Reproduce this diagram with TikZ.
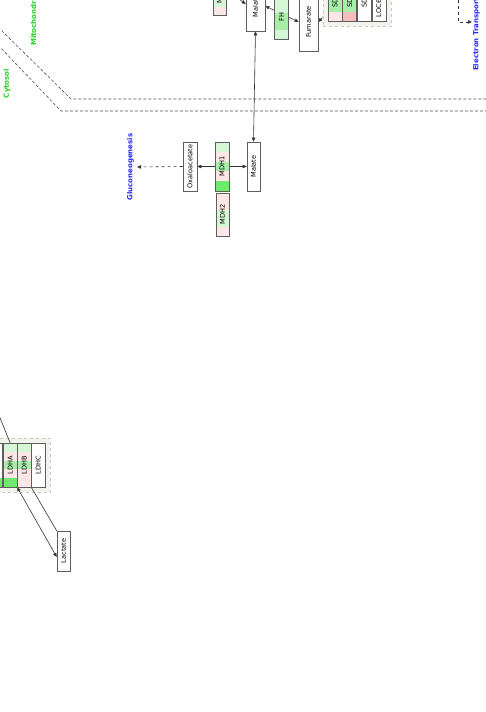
\documentclass[tikz,border=0pt]{standalone}
\usepackage{fontspec}
\setmainfont{DejaVu Sans}
\usepackage{graphicx}
\usetikzlibrary{arrows.meta, positioning, fit, backgrounds, calc}
\definecolor{ink}{HTML}{333333}
\definecolor{edge}{HTML}{5E5E5E}
\definecolor{membrane}{HTML}{505050}
\definecolor{compgreen}{HTML}{1ED41E}
\definecolor{pwblue}{HTML}{2525FF}
\definecolor{lg}{HTML}{D6F7D6}
\definecolor{mg}{HTML}{A8EDA8}
\definecolor{bg}{HTML}{6FEA6F}
\definecolor{pk}{HTML}{FCE6E6}
\definecolor{rs}{HTML}{F6BDBD}
\definecolor{grpfill}{HTML}{F3F3EE}
\definecolor{grpline}{HTML}{C8C8C0}
\newcommand{\vlab}[1]{\rotatebox{90}{#1}}

\begin{document}
\begin{tikzpicture}[x=1pt, y=-1pt,
    every node/.style={font=\fontsize{6.6}{7}\selectfont},
    metab/.style={rectangle, draw=edge, fill=white, line width=0.6pt,
                  inner sep=0pt, minimum width=13pt},
    gene/.style={metab, minimum width=14pt},
    bands/.style={path picture={
        \foreach \c [count=\i from 0] in {#1}
          \fill[\c] ($(path picture bounding box.north west)!\i/5!(path picture bounding box.south west)$)
            rectangle ($(path picture bounding box.north east)!\i/5+0.2!(path picture bounding box.south east)$);
      }},
    genegroup/.style={rectangle, draw=grpline, fill=grpfill, dashed, inner sep=5pt},
    complabel/.style={rotate=90, text=compgreen, inner sep=1pt,
                      font=\fontsize{7}{8}\selectfont\bfseries},
    pwlabel/.style={complabel, text=pwblue},
    membrane/.style={draw=membrane, line width=0.6pt, dash pattern=on 3pt off 2pt},
    conn/.style={draw=ink, line width=0.6pt},
    arrow/.style={conn, -{Triangle[length=4pt,width=3.5pt]}},
    biarrow/.style={conn, {Triangle[length=4pt,width=3.5pt]}-{Triangle[length=4pt,width=3.5pt]}},
    dasharrow/.style={arrow, dashed}
  ]
    \useasboundingbox (0,0) rectangle (485,712);

    % compartments
    \node[complabel, anchor=west] (mito) at (33.5,47) {Mitochondrion};
    \node[complabel] (cyto) at (7,83.5) {Cytosol};

    % mitochondrion
    \node[metab, minimum width=19pt, minimum height=50pt] (malM) at (255.5,6) {\vlab{Malate}};
    \node[gene, minimum width=13pt, minimum height=42pt, bands={lg,lg,lg,lg,pk}] (mdhM) at (219.5,-6) {\vlab{MDH2}};
    \node[gene, minimum width=13.5pt, minimum height=44pt, bands={lg,lg,mg,mg,lg}] (fh) at (281.5,17) {\vlab{FH}};
    \node[metab, minimum width=19pt, minimum height=58pt] (fum) at (308.5,22) {\vlab{Fumarate}};
    \node[gene, minimum height=46pt, bands={mg,mg,mg,mg,pk}] (sdha) at (335,-2) {\vlab{SDHA}};
    \node[gene, minimum height=46pt, bands={mg,mg,mg,mg,rs}, right=0pt of sdha] (sdhb) {\vlab{SDHB}};
    \node[gene, minimum height=46pt, right=0pt of sdhb] (sdhc) {\vlab{SDHC}};
    \node[gene, minimum height=46pt, right=0pt of sdhc] (sdhd) {\vlab{LOC642502}};
    \node[pwlabel, anchor=west] (etc) at (476.5,72) {Electron Transport Chain};
    \coordinate (sdhout) at (458,-6);
    \coordinate (oaaM) at (235,-4);

    % cytosol
    \node[metab, minimum height=49pt] (malC) at (253.5,166.5) {\vlab{Malate}};
    \node[gene, minimum height=49pt, bands={lg,pk,mg,pk,bg}] (mdh1) at (222,166.5) {\vlab{MDH1}};
    \node[gene, minimum width=13pt, minimum height=43pt, bands={pk,pk,lg,lg,pk}] (mdh2) at (222.5,214.5) {\vlab{MDH2}};
    \node[metab, minimum width=14pt, minimum height=49pt] (oaa) at (190,166.5) {\vlab{Oxaloacetate}};
    \node[pwlabel] (gluco) at (130.5,167) {Gluconeogenesis};

    \node[gene, minimum width=13.5pt, minimum height=44pt, bands={white,white,white,white,bg}] (ldhx) at (-4,465) {};
    \node[gene, minimum width=13.5pt, minimum height=44pt, bands={lg,pk,mg,pk,bg}, right=0pt of ldhx] (ldha) {\vlab{LDHA}};
    \node[gene, minimum width=13.5pt, minimum height=44pt, bands={lg,pk,mg,pk,pk}, right=0pt of ldha] (ldhb) {\vlab{LDHB}};
    \node[gene, minimum width=13.5pt, minimum height=44pt, right=0pt of ldhb] (ldhc) {\vlab{LDHC}};
    \node[metab, minimum height=40pt] (lact) at (63.5,551) {\vlab{Lactate}};
    \coordinate (pyr) at (-6,403);

    \begin{scope}[on background layer]
      \node[genegroup, fit=(sdha)(sdhd)] (sdh) {};
      \node[genegroup, fit=(ldhx)(ldhc)] (ldh) {};
      \draw[membrane] (-2,27) -- (71,99) -- (487,99);
      \draw[membrane] (-2,45) -- (61,111) -- (487,111);
      \draw[biarrow] (malC.north) -- (malM.south);
      \draw[biarrow] (fum.west) -- (malM.east);
      \draw[arrow] (oaaM) -- ([yshift=2pt]malM.west);
      \draw[arrow] ([yshift=9pt]sdh.south west) -- (fum.east);
      \draw[dasharrow] (sdhout) |- (etc.north);
      \draw[biarrow] (oaa.east) -- (malC.west);
      \draw[dasharrow, shorten >=2pt] (oaa.west) -- (gluco.south);
      \draw[conn] (pyr) -- (ldha.north);
      \draw[biarrow] (ldhb.south west) -- ([yshift=-6pt]lact.west);
      \draw[conn] (ldhc.south west) -- (lact.north west);
    \end{scope}
\end{tikzpicture}
\end{document}
